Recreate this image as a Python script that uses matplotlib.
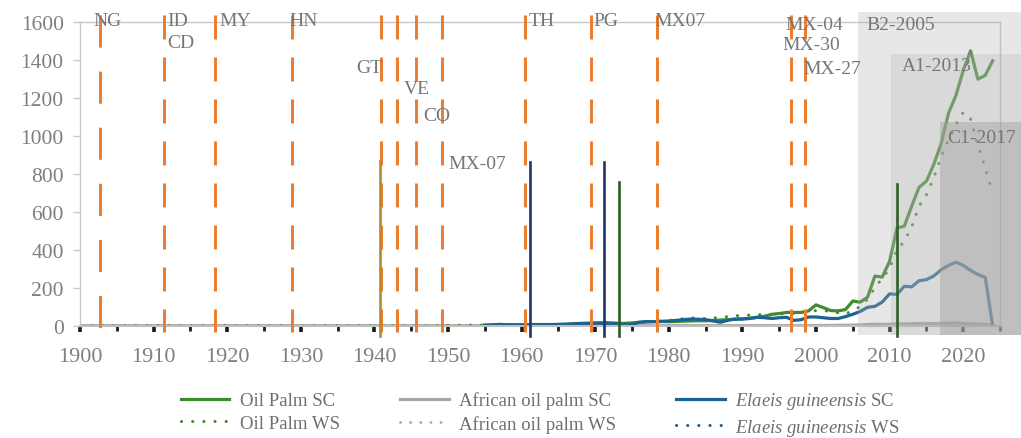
import matplotlib
matplotlib.use("Agg")
import matplotlib.pyplot as plt
from matplotlib.patches import Rectangle

plt.rcParams['font.family'] = ['Liberation Serif', 'DejaVu Serif']
plt.rcParams['mathtext.fontset'] = 'custom'
plt.rcParams['mathtext.rm'] = 'Liberation Serif'
plt.rcParams['mathtext.it'] = 'Liberation Serif:italic'

# ---- data ----
ws_years = list(range(1900, 2025))
sc_years = list(range(1955, 2025))

oil_palm_sc = [2, 4, 7, 5, 3,
               4, 5, 5, 4, 5, 6, 7, 9, 11, 13,
               15, 16, 15, 13, 12, 15, 18, 20, 22, 22,
               21, 22, 24, 25, 26, 26, 28, 30, 32, 34,
               36, 40, 44, 50, 60, 64, 70, 70, 70, 78,
               110, 95, 80, 78, 85, 130, 124, 150, 262, 256,
               340, 515, 525, 630, 730, 762, 850, 960, 1120, 1213,
               1345, 1450, 1300, 1320, 1397]

elaeis_sc = [3, 4, 5, 5, 5,
             5, 5, 6, 6, 6, 7, 8, 10, 12, 12,
             12, 12, 12, 10, 8, 6, 18, 22, 21, 23,
             25, 28, 32, 35, 34, 32, 25, 18, 28, 35,
             35, 38, 44, 42, 38, 42, 44, 28, 32, 46,
             46, 42, 38, 38, 48, 60, 75, 97, 102, 125,
             168, 165, 208, 205, 237, 243, 262, 295, 318, 335,
             318, 292, 270, 255, 0]

oil_palm_ws = [0, 0, 0, 0, 0, 0, 0, 0, 0, 0,
               0, 0, 0, 0, 0, 0, 0, 0, 0, 0,
               0, 0, 0, 0, 0, 0, 0, 0, 0, 0,
               0, 0, 0, 0, 0, 0, 0, 0, 0, 0,
               0, 0, 0, 0, 0, 0, 0, 0, 0, 0,
               1, 2, 2, 3, 3, 4, 5, 6, 5, 4,
               4, 5, 5, 5, 5, 6, 7, 9, 11, 13,
               15, 16, 15, 13, 12, 15, 18, 20, 22, 25,
               28, 30, 38, 42, 38, 38, 40, 45, 48, 52,
               55, 56, 58, 59, 60, 62, 63, 65, 68, 72,
               80, 80, 75, 68, 62, 80, 100, 140, 200, 250,
               300, 400, 445, 520, 630, 690, 780, 890, 980, 1060,
               1125, 1090, 950, 830, 700]

african_sc = [0, 0, 0, 0, 0, 0, 0, 0, 0, 0,
              0, 0, 0, 0, 0, 0, 0, 0, 0, 0,
              0, 0, 0, 0, 0, 0, 0, 0, 0, 0,
              0, 0, 0, 0, 0, 0, 0, 0, 0, 0,
              0, 0, 0, 0, 0, 0, 0, 0, 0, 0,
              0, 0, 0, 0, 0, 0, 0, 0, 0, 0,
              0, 0, 0, 0, 0, 0, 0, 0, 0, 0,
              0, 0, 0, 0, 0, 0, 0, 0, 0, 0,
              0, 0, 0, 0, 0, 0, 0, 0, 0, 0,
              0, 0, 0, 0, 0, 0, 0, 0, 0, 0,
              1, 1, 1, 2, 2, 3, 4, 6, 8, 7,
              8, 10, 9, 10, 12, 12, 11, 12, 13, 14,
              12, 10, 8, 6, 4]

african_ws = [0] * 100 + [0, 0, 0, 0, 0, 1, 1, 2, 3, 3,
                          4, 5, 5, 6, 6, 7, 7, 8, 8, 8,
                          7, 6, 5, 4, 3]

elaeis_ws = [0] * 125

# survey / collection events (orange dashed)
event_years = [1902.7, 1911.35, 1918.3, 1928.8, 1940.9, 1943.1, 1945.7,
               1949.2, 1960.5, 1969.4, 1978.4, 1996.55, 1998.45]

# single-year markers (solid verticals)
marker_years = [1940.8, 1961.1, 1971.25, 1973.2, 2011.0]
marker_heights = [867, 865, 865, 758, 747]
marker_colors = ['#B58A2C', '#22336A', '#22336A', '#2E5E24', '#2E5E24']

# shaded periods
period_labels = ['B2-2005', 'A1-2013', 'C1-2017']
period_starts = [2005.7, 2010.2, 2016.85]

# ---- figure ----
fig = plt.figure(figsize=(10.21, 4.39), dpi=100)
ax = fig.add_axes([80 / 1021, 1 - 326.7 / 439, 920 / 1021, 303.4 / 439])
ax.set_xlim(1900, 2025)
ax.set_ylim(0, 1600)
ax.set_axisbelow(True)

green = '#3E8C2E'
blue = '#1C6393'
grey = '#A6A6A6'
dots = (0, (0.05, 3.6))

l_as, = ax.plot(ws_years, african_sc, color=grey, lw=2.3, label='African oil palm SC', zorder=2)
l_ow, = ax.plot(ws_years, oil_palm_ws, color=green, lw=2.2, ls=dots, dash_capstyle='round',
                label='Oil Palm WS', zorder=2.1)
l_aw, = ax.plot(ws_years, african_ws, color=grey, lw=2.0, ls=dots, dash_capstyle='round',
                label='African oil palm WS', zorder=2.1)
l_ew, = ax.plot(ws_years, elaeis_ws, color=blue, lw=2.2, ls=dots, dash_capstyle='round',
                label=r'$\it{Elaeis\ guineensis}$ WS', zorder=2.2)
l_os, = ax.plot(sc_years, oil_palm_sc, color=green, lw=2.3, label='Oil Palm SC', zorder=2.3)
l_es, = ax.plot(sc_years, elaeis_sc, color=blue, lw=2.3, label=r'$\it{Elaeis\ guineensis}$ SC', zorder=2.4)

for i, yr in enumerate(event_years):
    if i == 0:
        style = (0, (10.7, 8.0))
    else:
        style = (0, (8.0, 6.0))
    ax.plot([yr, yr], [1640, -32], color='#ED7D31', lw=2.16, ls=style, clip_on=False, zorder=3)

for yr, h, c in zip(marker_years, marker_heights, marker_colors):
    ax.plot([yr, yr], [h, -52], color=c, lw=1.9, clip_on=False, zorder=5)

period_tops = [1654, 1433, 1074]
period_fc = ['#B0B0B0', '#B0B0B0', '#A0A0A0']
period_alpha = [0.3, 0.25, 0.45]
for s, top, fc, a in zip(period_starts, period_tops, period_fc, period_alpha):
    ax.add_patch(Rectangle((s, -47), 2028.2 - s, top + 47, facecolor=fc, alpha=a,
                           lw=0, clip_on=False, zorder=4))

# text labels
txt = '#767676'
labels = [('NG', 1901.8, 1609), ('ID', 1911.85, 1609), ('CD', 1911.85, 1496),
          ('MY', 1918.9, 1609), ('HN', 1928.5, 1609), ('GT', 1937.6, 1359),
          ('VE', 1944.0, 1251), ('CO', 1946.6, 1108), ('MX-07', 1950.1, 858),
          ('TH', 1960.9, 1607), ('PG', 1969.7, 1607), ('MX07', 1978.0, 1607),
          ('MX-04', 1995.8, 1591), ('MX-30', 1995.5, 1483), ('MX-27', 1998.3, 1354),
          (period_labels[0], 2006.8, 1591), (period_labels[1], 2011.7, 1370),
          (period_labels[2], 2017.9, 993)]
for t, x, y in labels:
    ax.text(x, y, t, fontsize=14, color=txt, ha='left', va='center', zorder=6, clip_on=False)

# axes styling
for side in ['left', 'top', 'right']:
    ax.spines[side].set_color('#C8C8C8')
    ax.spines[side].set_linewidth(1.0)
ax.spines['bottom'].set_color('#BFBFBF')
ax.spines['bottom'].set_linewidth(1.5)

ax.set_yticks(range(0, 1601, 200))
ax.set_xticks(range(1900, 2021, 10))
ax.set_xticks(range(1905, 2026, 10), minor=True)
ax.tick_params(axis='y', colors='#C8C8C8', labelcolor='#7F7F7F', labelsize=15.5,
               length=4.7, width=1, pad=7)
ax.tick_params(axis='x', which='major', color='#1A1A1A', labelcolor='#7F7F7F', labelsize=16,
               length=4.5, width=2.6, pad=11)
ax.tick_params(axis='x', which='minor', color='#1A1A1A', length=3.6, width=2.0)

handles = [l_os, l_ow, l_as, l_aw, l_es, l_ew]
fig.legend(handles=handles, labels=[h.get_label() for h in handles], ncol=3,
           loc='center', bbox_to_anchor=(540 / 1021, 1 - 415 / 439), frameon=False,
           fontsize=13.5, labelcolor='#6E6E6E', handlelength=2.6, handletextpad=0.55,
           columnspacing=3.2, labelspacing=0.3)

fig.savefig('out.png', dpi=100)
